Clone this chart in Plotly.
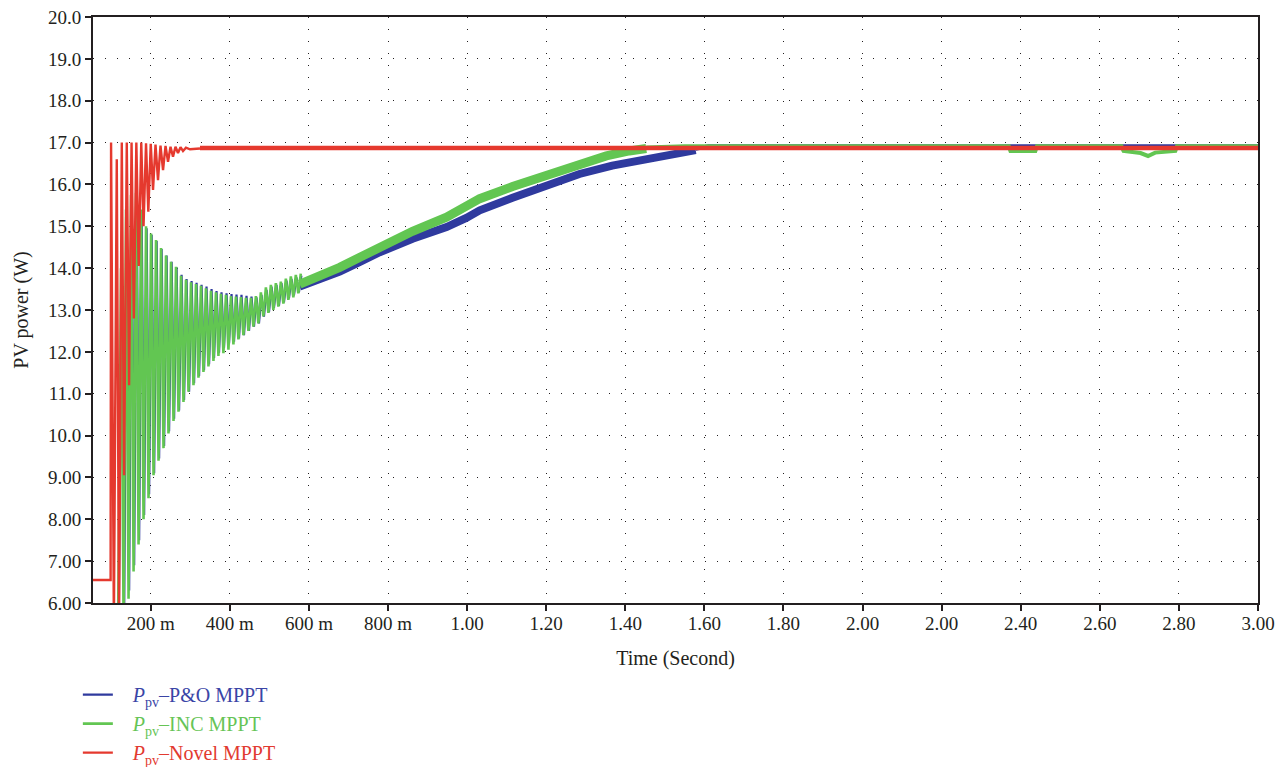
import plotly.graph_objects as go

# ---------------- data ----------------
# P&O MPPT (blue) - start-up oscillation: start point, peaks and troughs
blue_start = (0.119, 5.5)
blue_peak_x = [0.1265, 0.1391, 0.1518, 0.1644, 0.1770, 0.1896, 0.2023, 0.2149, 0.2275, 0.2401,
               0.2528, 0.2654, 0.2780, 0.2906, 0.3033, 0.3159, 0.3285, 0.3411, 0.3538, 0.3664,
               0.3790, 0.3917, 0.4043, 0.4169, 0.4295, 0.4422, 0.4548, 0.4674, 0.4800, 0.4927,
               0.5053, 0.5179, 0.5305, 0.5432, 0.5558, 0.5684, 0.5810]
blue_peak_y = [13.8, 15.3, 15.7, 15.75, 15.35, 14.95, 14.8, 14.65, 14.46, 14.3,
               14.15, 14.02, 13.84, 13.74, 13.69, 13.65, 13.6, 13.56, 13.5, 13.45,
               13.42, 13.4, 13.38, 13.37, 13.36, 13.34, 13.32, 13.3, 13.36, 13.48,
               13.56, 13.6, 13.64, 13.7, 13.74, 13.78, 13.82]
blue_trough_x = [0.1328, 0.1454, 0.1581, 0.1707, 0.1833, 0.1959, 0.2086, 0.2212, 0.2338, 0.2464,
                 0.2591, 0.2717, 0.2843, 0.2970, 0.3096, 0.3222, 0.3348, 0.3475, 0.3601, 0.3727,
                 0.3853, 0.3980, 0.4106, 0.4232, 0.4358, 0.4485, 0.4611, 0.4737, 0.4863, 0.4990,
                 0.5116, 0.5242, 0.5369, 0.5495, 0.5621, 0.5747]
blue_trough_y = [5.7, 6.3, 6.9, 7.5, 8.1, 8.6, 9.1, 9.45, 9.75, 10.1,
                 10.4, 10.6, 10.85, 11.05, 11.25, 11.42, 11.56, 11.7, 11.85, 11.98,
                 12.1, 12.2, 12.24, 12.32, 12.4, 12.5, 12.6, 12.68, 12.84, 12.95,
                 13.05, 13.1, 13.18, 13.28, 13.35, 13.42]
# P&O MPPT - rising band and steady state
blue_band_x = [0.577, 0.628, 0.678, 0.729, 0.779, 0.862, 0.948, 0.998, 1.032, 1.115,
               1.201, 1.284, 1.367, 1.453, 1.536, 1.578]
blue_band_y = [13.56, 13.72, 13.92, 14.15, 14.38, 14.7, 14.98, 15.2, 15.38, 15.68,
               15.95, 16.25, 16.45, 16.62, 16.75, 16.82]
blue_steady_x = [1.578, 1.61, 3.0]
blue_steady_y = [16.85, 16.91, 16.91]

# INC MPPT (green)
green_start = (0.1174, 5.5)
green_peak_x = [0.1250, 0.1376, 0.1503, 0.1629, 0.1755, 0.1881, 0.2008, 0.2134, 0.2260, 0.2386,
                0.2513, 0.2639, 0.2765, 0.2891, 0.3018, 0.3144, 0.3270, 0.3396, 0.3523, 0.3649,
                0.3775, 0.3902, 0.4028, 0.4154, 0.4280, 0.4407, 0.4533, 0.4659, 0.4785, 0.4912,
                0.5038, 0.5164, 0.5290, 0.5417, 0.5543, 0.5669, 0.5795]
green_peak_y = [14.0, 15.4, 15.75, 15.8, 15.4, 15.0, 14.83, 14.67, 14.48, 14.3,
                14.15, 14.03, 13.82, 13.72, 13.66, 13.62, 13.58, 13.52, 13.46, 13.42,
                13.39, 13.36, 13.33, 13.32, 13.31, 13.29, 13.29, 13.33, 13.42, 13.54,
                13.6, 13.64, 13.68, 13.75, 13.8, 13.84, 13.87]
green_trough_x = [0.1313, 0.1439, 0.1566, 0.1692, 0.1818, 0.1944, 0.2071, 0.2197, 0.2323, 0.2449,
                  0.2576, 0.2702, 0.2828, 0.2955, 0.3081, 0.3207, 0.3333, 0.3460, 0.3586, 0.3712,
                  0.3838, 0.3965, 0.4091, 0.4217, 0.4343, 0.4470, 0.4596, 0.4722, 0.4848, 0.4975,
                  0.5101, 0.5227, 0.5354, 0.5480, 0.5606, 0.5732]
green_trough_y = [5.6, 6.1, 6.75, 7.4, 8.0, 8.5, 9.05, 9.4, 9.7, 10.05,
                  10.35, 10.57, 10.8, 11.05, 11.2, 11.38, 11.52, 11.65, 11.78, 11.9,
                  11.97, 12.05, 12.18, 12.3, 12.4, 12.5, 12.6, 12.68, 12.85, 12.93,
                  13.0, 13.08, 13.15, 13.24, 13.3, 13.4]
green_band_x = [0.577, 0.628, 0.678, 0.729, 0.779, 0.862, 0.948, 0.998, 1.032, 1.115,
                1.201, 1.284, 1.352, 1.410, 1.453]
green_band_y = [13.62, 13.8, 14.02, 14.26, 14.5, 14.88, 15.22, 15.5, 15.66, 15.95,
                16.22, 16.46, 16.68, 16.8, 16.86]
green_steady_x = [1.453, 1.55, 2.370, 2.374, 2.437, 2.441, 2.655, 2.660, 2.703, 2.722, 2.740, 2.791, 2.795, 3.0]
green_steady_y = [16.88, 16.91, 16.91, 16.8, 16.8, 16.91, 16.91, 16.8, 16.75, 16.68, 16.76, 16.8, 16.91, 16.91]

# Novel MPPT (red)
red_x = [0.0, 0.0985, 0.0997, 0.1068, 0.1141, 0.1199, 0.1268, 0.1326, 0.1394, 0.1452,
         0.1515, 0.1573, 0.1636, 0.1697, 0.1760, 0.1818, 0.1881, 0.1939, 0.2000, 0.2058,
         0.2121, 0.2184, 0.2247, 0.2311, 0.2374, 0.2437, 0.2500, 0.2563, 0.2626, 0.2689,
         0.2753, 0.2816, 0.2891, 0.2992, 0.3245]
red_y = [6.55, 6.55, 17.0, 5.5, 16.6, 5.5, 17.0, 9.05, 17.0, 11.2,
         17.0, 12.8, 17.0, 14.05, 17.0, 15.0, 16.98, 15.35, 16.97, 15.87,
         16.95, 16.1, 16.93, 16.34, 16.92, 16.54, 16.9, 16.66, 16.9, 16.75,
         16.89, 16.8, 16.88, 16.84, 16.86]
red_steady_x = [0.3245, 3.0]
red_steady_y = [16.87, 16.87]

# axes
x_tick_vals = [0.2, 0.4, 0.6, 0.8, 1.0, 1.2, 1.4, 1.6, 1.8, 2.0, 2.2, 2.4, 2.6, 2.8, 3.0]
x_tick_text = ["200 m", "400 m", "600 m", "800 m", "1.00", "1.20", "1.40", "1.60", "1.80",
               "2.00", "2.00", "2.40", "2.60", "2.80", "3.00"]
y_tick_vals = [6, 7, 8, 9, 10, 11, 12, 13, 14, 15, 16, 17, 18, 19, 20]
y_tick_text = ["6.00", "7.00", "8.00", "9.00", "10.0", "11.0", "12.0", "13.0", "14.0", "15.0",
               "16.0", "17.0", "18.0", "19.0", "20.0"]

names = ["P&amp;O MPPT", "INC MPPT", "Novel MPPT"]
line_colors = ["#2f3a9e", "#62c652", "#e5392e"]
text_colors = ["#3a45a6", "#66c456", "#e23a30"]


def interleave(start, px, py, tx, ty):
    xs, ys = [start[0]], [start[1]]
    for i in range(len(px)):
        xs.append(px[i]); ys.append(py[i])
        if i < len(tx):
            xs.append(tx[i]); ys.append(ty[i])
    return xs, ys


def legend_name(i):
    return ('\u00a0\u00a0\u00a0<span style="color:%s"><i>P</i><sub>pv</sub>–%s</span>'
            % (text_colors[i], names[i]))


FONT = "Liberation Serif, Times New Roman, serif"
INK = "#231f20"
fig = go.Figure()

bx, by = interleave(blue_start, blue_peak_x, blue_peak_y, blue_trough_x, blue_trough_y)
gx, gy = interleave(green_start, green_peak_x, green_peak_y, green_trough_x, green_trough_y)

# blue
fig.add_trace(go.Scatter(x=bx, y=by, mode="lines", name=legend_name(0), legendgroup="b",
                         line=dict(color=line_colors[0], width=2.2)))
fig.add_trace(go.Scatter(x=blue_band_x, y=blue_band_y, mode="lines", legendgroup="b",
                         showlegend=False, line=dict(color=line_colors[0], width=8)))
fig.add_trace(go.Scatter(x=blue_steady_x, y=blue_steady_y, mode="lines", legendgroup="b",
                         showlegend=False, line=dict(color=line_colors[0], width=4)))
# green
fig.add_trace(go.Scatter(x=gx, y=gy, mode="lines", name=legend_name(1), legendgroup="g",
                         line=dict(color=line_colors[1], width=2.6)))
fig.add_trace(go.Scatter(x=green_band_x, y=green_band_y, mode="lines", legendgroup="g",
                         showlegend=False, line=dict(color=line_colors[1], width=9)))
fig.add_trace(go.Scatter(x=green_steady_x, y=green_steady_y, mode="lines", legendgroup="g",
                         showlegend=False, line=dict(color=line_colors[1], width=4)))
# red
fig.add_trace(go.Scatter(x=red_x, y=red_y, mode="lines", name=legend_name(2), legendgroup="r",
                         line=dict(color=line_colors[2], width=2.4)))
fig.add_trace(go.Scatter(x=red_steady_x, y=red_steady_y, mode="lines", legendgroup="r",
                         showlegend=False, line=dict(color=line_colors[2], width=4.5)))

axis_common = dict(showline=True, linecolor=INK, linewidth=1.8, mirror=True,
                   ticks="outside", ticklen=6, tickwidth=1.5, tickcolor=INK,
                   showgrid=True, gridcolor=INK, gridwidth=1, griddash="1px,11px",
                   zeroline=False, automargin=False,
                   tickfont=dict(family=FONT, size=19, color=INK))

fig.update_xaxes(range=[0.054, 3.0], tickvals=x_tick_vals, ticktext=x_tick_text,
                 ticklabelstandoff=-4,
                 title=dict(text="Time (Second)", font=dict(family=FONT, size=20, color=INK),
                            standoff=18),
                 **axis_common)
fig.update_yaxes(range=[6, 20], tickvals=y_tick_vals, ticktext=y_tick_text,
                 title=dict(text="PV power (W)", font=dict(family=FONT, size=20, color=INK),
                            standoff=14),
                 **axis_common)

fig.update_layout(
    width=1278, height=767,
    margin=dict(l=93, r=20, t=17, b=164, autoexpand=False),
    paper_bgcolor="white", plot_bgcolor="white",
    font=dict(family=FONT, size=19, color=INK),
    showlegend=True,
    legend=dict(x=-0.013, y=-0.123, xanchor="left", yanchor="top", orientation="v",
                font=dict(family=FONT, size=20), bgcolor="rgba(0,0,0,0)",
                tracegroupgap=0, itemwidth=30),
)

fig.write_html("out.html")
